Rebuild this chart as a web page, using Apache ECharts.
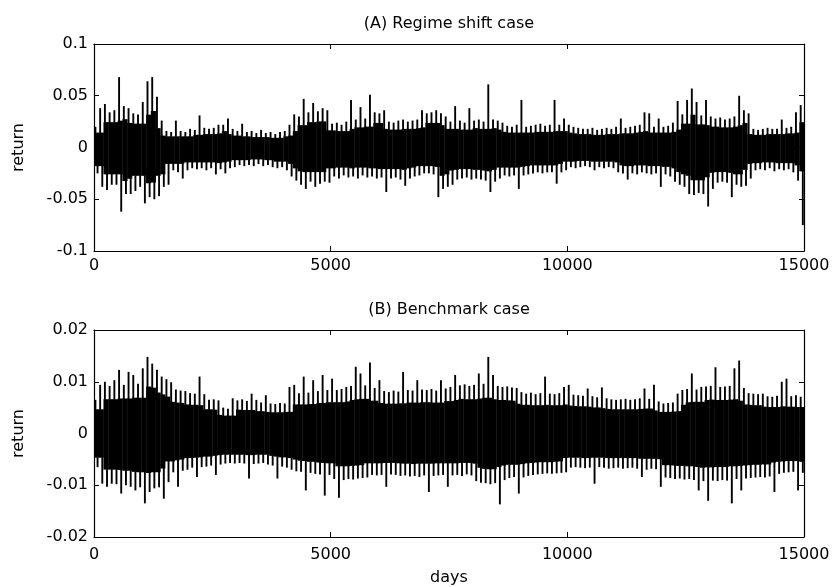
<!DOCTYPE html>
<html>
<head>
<meta charset="utf-8">
<script src="https://cdn.jsdelivr.net/npm/echarts@6/dist/echarts.min.js"></script>
<style>
html,body{margin:0;padding:0;background:#fff;}
#chart{width:835px;height:587px;}
</style>
</head>
<body>
<div id="chart"></div>
<script>
// Bins of 100 days each (150 bins covering days 0..15000); per bin the highest and lowest return.
const binDays = 100;
const xTicks = [0, 5000, 10000, 15000];
const titleA = "(A) Regime shift case";
const titleB = "(B) Benchmark case";

const hiA = [
0.020,0.038,0.042,0.034,0.036,0.068,0.040,0.038,0.033,0.032,
0.044,0.064,0.068,0.049,0.026,0.016,0.015,0.026,0.016,0.015,
0.018,0.017,0.031,0.019,0.018,0.019,0.022,0.022,0.028,0.018,
0.016,0.023,0.015,0.016,0.014,0.017,0.014,0.015,0.013,0.015,
0.016,0.022,0.032,0.030,0.047,0.034,0.043,0.035,0.038,0.036,
0.023,0.024,0.022,0.025,0.046,0.027,0.039,0.028,0.051,0.034,
0.033,0.036,0.025,0.024,0.026,0.027,0.025,0.026,0.027,0.036,
0.033,0.034,0.036,0.033,0.030,0.025,0.040,0.026,0.024,0.038,
0.026,0.027,0.025,0.061,0.027,0.026,0.024,0.021,0.020,0.022,
0.046,0.020,0.021,0.022,0.023,0.021,0.022,0.046,0.022,0.028,
0.022,0.020,0.019,0.018,0.018,0.019,0.017,0.018,0.019,0.018,
0.020,0.028,0.019,0.020,0.021,0.022,0.034,0.033,0.020,0.028,
0.020,0.021,0.024,0.045,0.032,0.046,0.057,0.044,0.031,0.046,
0.030,0.028,0.029,0.027,0.028,0.030,0.050,0.036,0.033,0.018,
0.017,0.018,0.019,0.018,0.018,0.027,0.019,0.020,0.034,0.041
];
const loA = [
-0.025,-0.038,-0.041,-0.036,-0.036,-0.062,-0.045,-0.045,-0.042,-0.038,
-0.054,-0.048,-0.050,-0.047,-0.038,-0.036,-0.022,-0.024,-0.030,-0.022,
-0.020,-0.021,-0.020,-0.022,-0.020,-0.026,-0.021,-0.025,-0.020,-0.019,
-0.017,-0.018,-0.017,-0.018,-0.016,-0.018,-0.017,-0.019,-0.020,-0.019,
-0.022,-0.028,-0.032,-0.036,-0.040,-0.033,-0.038,-0.035,-0.033,-0.034,
-0.028,-0.030,-0.027,-0.029,-0.028,-0.030,-0.027,-0.029,-0.028,-0.030,
-0.029,-0.043,-0.030,-0.029,-0.031,-0.037,-0.030,-0.028,-0.027,-0.025,
-0.025,-0.026,-0.048,-0.040,-0.038,-0.036,-0.031,-0.030,-0.029,-0.031,
-0.030,-0.031,-0.032,-0.043,-0.033,-0.030,-0.027,-0.028,-0.027,-0.040,
-0.027,-0.026,-0.025,-0.024,-0.025,-0.024,-0.024,-0.035,-0.024,-0.022,
-0.019,-0.020,-0.019,-0.018,-0.019,-0.022,-0.019,-0.020,-0.019,-0.020,
-0.024,-0.025,-0.031,-0.025,-0.026,-0.024,-0.025,-0.026,-0.025,-0.038,
-0.026,-0.028,-0.033,-0.036,-0.038,-0.045,-0.046,-0.044,-0.045,-0.057,
-0.040,-0.034,-0.033,-0.034,-0.048,-0.036,-0.038,-0.037,-0.030,-0.022,
-0.021,-0.022,-0.020,-0.023,-0.021,-0.022,-0.021,-0.024,-0.032,-0.075
];
const hiB = [
0.0065,0.0094,0.0100,0.0092,0.0103,0.0123,0.0094,0.0119,0.0113,0.0096,
0.0126,0.0148,0.0135,0.0123,0.0110,0.0105,0.0099,0.0085,0.0083,0.0082,
0.0078,0.0077,0.0110,0.0076,0.0065,0.0066,0.0064,0.0050,0.0048,0.0068,
0.0064,0.0066,0.0063,0.0077,0.0065,0.0060,0.0074,0.0058,0.0057,0.0059,
0.0058,0.0090,0.0094,0.0078,0.0110,0.0079,0.0103,0.0082,0.0113,0.0084,
0.0106,0.0084,0.0086,0.0090,0.0092,0.0129,0.0116,0.0093,0.0137,0.0088,
0.0103,0.0082,0.0080,0.0083,0.0081,0.0119,0.0084,0.0083,0.0103,0.0085,
0.0084,0.0086,0.0083,0.0103,0.0087,0.0090,0.0113,0.0093,0.0095,0.0092,
0.0094,0.0116,0.0096,0.0148,0.0113,0.0092,0.0090,0.0091,0.0089,0.0088,
0.0080,0.0077,0.0079,0.0076,0.0078,0.0110,0.0077,0.0076,0.0078,0.0090,
0.0094,0.0075,0.0074,0.0073,0.0087,0.0072,0.0070,0.0089,0.0068,0.0066,
0.0065,0.0066,0.0067,0.0065,0.0066,0.0068,0.0087,0.0067,0.0094,0.0062,
0.0058,0.0059,0.0060,0.0077,0.0084,0.0086,0.0116,0.0085,0.0090,0.0091,
0.0092,0.0128,0.0090,0.0091,0.0092,0.0126,0.0141,0.0088,0.0078,0.0077,
0.0076,0.0077,0.0072,0.0071,0.0073,0.0100,0.0106,0.0072,0.0074,0.0071
];
const loB = [
-0.0065,-0.0097,-0.0103,-0.0097,-0.0098,-0.0116,-0.0100,-0.0103,-0.0110,-0.0104,
-0.0135,-0.0113,-0.0106,-0.0104,-0.0126,-0.0094,-0.0075,-0.0103,-0.0072,-0.0070,
-0.0066,-0.0084,-0.0065,-0.0064,-0.0062,-0.0080,-0.0060,-0.0058,-0.0057,-0.0058,
-0.0057,-0.0058,-0.0087,-0.0059,-0.0058,-0.0057,-0.0060,-0.0062,-0.0087,-0.0064,
-0.0066,-0.0070,-0.0073,-0.0074,-0.0110,-0.0076,-0.0078,-0.0079,-0.0120,-0.0080,
-0.0088,-0.0124,-0.0090,-0.0088,-0.0089,-0.0087,-0.0086,-0.0085,-0.0080,-0.0081,
-0.0080,-0.0103,-0.0079,-0.0080,-0.0082,-0.0081,-0.0083,-0.0082,-0.0084,-0.0081,
-0.0113,-0.0082,-0.0081,-0.0080,-0.0103,-0.0081,-0.0080,-0.0082,-0.0079,-0.0081,
-0.0092,-0.0095,-0.0096,-0.0098,-0.0096,-0.0137,-0.0090,-0.0086,-0.0084,-0.0116,
-0.0085,-0.0082,-0.0080,-0.0079,-0.0078,-0.0077,-0.0078,-0.0077,-0.0076,-0.0075,
-0.0066,-0.0065,-0.0066,-0.0067,-0.0066,-0.0097,-0.0065,-0.0066,-0.0068,-0.0067,
-0.0066,-0.0068,-0.0067,-0.0066,-0.0068,-0.0084,-0.0070,-0.0068,-0.0069,-0.0103,
-0.0085,-0.0086,-0.0088,-0.0087,-0.0089,-0.0088,-0.0090,-0.0110,-0.0092,-0.0130,
-0.0091,-0.0092,-0.0090,-0.0091,-0.0135,-0.0088,-0.0110,-0.0087,-0.0086,-0.0085,
-0.0084,-0.0085,-0.0083,-0.0113,-0.0078,-0.0076,-0.0075,-0.0074,-0.0110,-0.0076
];

// Drawing only: the solid black core of a bin reaches ~72% of the smallest extreme among the bin and its
// neighbours (as seen in the picture); the bin's own extremes are drawn as narrow columns above/below it.
const coreShare = 0.72;
function rowsOf(hi, lo) {
  const n = hi.length, rows = [];
  for (let i = 0; i < n; i++) {
    const a = Math.max(0, i - 1), b = Math.min(n - 1, i + 1);
    const coreHi = coreShare * Math.min(hi[a], hi[i], hi[b]);
    const coreLo = coreShare * Math.max(lo[a], lo[i], lo[b]);
    rows.push([i * binDays, hi[i], lo[i], coreHi, coreLo]);
  }
  return rows;
}

function renderBin(params, api) {
  const x0 = api.value(0), hi = api.value(1), lo = api.value(2), ch = api.value(3), cl = api.value(4);
  const tl = api.coord([x0, ch]);
  const br = api.coord([x0 + binDays, cl]);
  const u0 = api.coord([x0 + binDays * 0.1, hi]);
  const u1 = api.coord([x0 + binDays * 0.5, ch]);
  const d0 = api.coord([x0 + binDays * 0.55, cl]);
  const d1 = api.coord([x0 + binDays * 0.95, lo]);
  return {
    type: 'group',
    children: [
      { type: 'rect', shape: { x: tl[0], y: tl[1], width: br[0] - tl[0] + 0.4, height: br[1] - tl[1] },
        style: { fill: '#000' } },
      { type: 'rect', shape: { x: u0[0], y: u0[1], width: u1[0] - u0[0], height: u1[1] - u0[1] + 0.5 },
        style: { fill: '#000' } },
      { type: 'rect', shape: { x: d0[0], y: d0[1] - 0.5, width: d1[0] - d0[0], height: d1[1] - d0[1] + 0.5 },
        style: { fill: '#000' } }
    ]
  };
}

const FONT = 'DejaVu Sans';
const black = '#000';
const gridL = 94, gridW = 710;

function xAx(grid, pos, showLabel, margin, name) {
  return {
    type: 'value', gridIndex: grid, position: pos,
    min: xTicks[0], max: xTicks[xTicks.length - 1], interval: 5000,
    axisLine: { show: true, onZero: false, lineStyle: { color: black, width: 1.2 } },
    axisTick: { show: true, inside: true, length: 5, lineStyle: { color: black } },
    axisLabel: { show: showLabel, color: black, fontFamily: FONT, fontSize: 16, margin: margin || 7,
                 formatter: v => String(v) },
    splitLine: { show: false },
    name: name || '', nameLocation: 'middle', nameGap: 33,
    nameTextStyle: { color: black, fontFamily: FONT, fontSize: 16 }
  };
}
function yAx(grid, pos, mn, mx, iv, showLabel, name) {
  return {
    type: 'value', gridIndex: grid, position: pos,
    min: mn, max: mx, interval: iv,
    axisLine: { show: true, onZero: false, lineStyle: { color: black, width: 1.2 } },
    axisTick: { show: true, inside: true, length: 5, lineStyle: { color: black } },
    axisLabel: { show: showLabel, color: black, fontFamily: FONT, fontSize: 16, margin: 6 },
    splitLine: { show: false },
    name: name || '', nameLocation: 'middle', nameGap: 67,
    nameTextStyle: { color: black, fontFamily: FONT, fontSize: 16 }
  };
}

const chart = echarts.init(document.getElementById('chart'), null, { renderer: 'canvas' });
chart.setOption({
  animation: false,
  backgroundColor: '#fff',
  title: [
    { text: titleA, left: gridL + gridW / 2, top: 16, textAlign: 'center', padding: 0,
      textStyle: { color: black, fontFamily: FONT, fontSize: 16, fontWeight: 'normal' } },
    { text: titleB, left: gridL + gridW / 2, top: 302, textAlign: 'center', padding: 0,
      textStyle: { color: black, fontFamily: FONT, fontSize: 16, fontWeight: 'normal' } }
  ],
  grid: [
    { left: gridL, top: 44, width: gridW, height: 207 },
    { left: gridL, top: 330, width: gridW, height: 207 }
  ],
  xAxis: [
    xAx(0, 'bottom', true, 7),
    xAx(0, 'top', false),
    xAx(1, 'bottom', true, 10, 'days'),
    xAx(1, 'top', false)
  ],
  yAxis: [
    yAx(0, 'left', -0.1, 0.1, 0.05, true, 'return'),
    yAx(0, 'right', -0.1, 0.1, 0.05, false),
    yAx(1, 'left', -0.02, 0.02, 0.01, true, 'return'),
    yAx(1, 'right', -0.02, 0.02, 0.01, false)
  ],
  series: [
    { type: 'custom', xAxisIndex: 0, yAxisIndex: 0, data: rowsOf(hiA, loA),
      encode: { x: 0, y: [1, 2] }, renderItem: renderBin, clip: true, silent: true },
    { type: 'custom', xAxisIndex: 2, yAxisIndex: 2, data: rowsOf(hiB, loB),
      encode: { x: 0, y: [1, 2] }, renderItem: renderBin, clip: true, silent: true }
  ]
});
</script>
</body>
</html>
